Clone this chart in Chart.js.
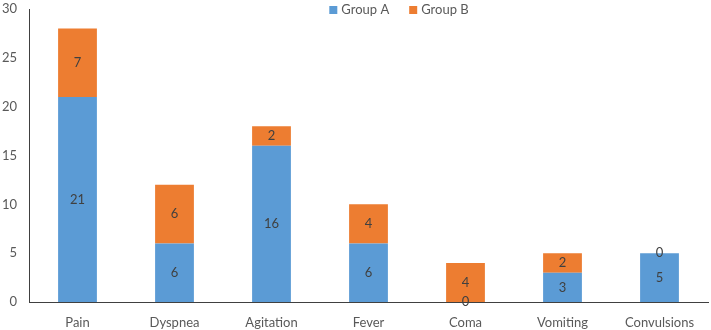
<!DOCTYPE html>
<html>
<head>
<meta charset="utf-8">
<script src="https://cdn.jsdelivr.net/npm/chart.js@4"></script>
<style>
  html, body { margin: 0; padding: 0; background: #fff; }
  #wrap { width: 711px; height: 330px; position: relative; }
</style>
</head>
<body>
<div id="wrap"><canvas id="chart"></canvas></div>
<script>
// Chart data
const categories = ['Pain', 'Dyspnea', 'Agitation', 'Fever', 'Coma', 'Vomiting', 'Convulsions'];
const groupA = [21, 6, 16, 6, 0, 3, 5];
const groupB = [7, 6, 2, 4, 4, 2, 0];
const yTicks = [0, 5, 10, 15, 20, 25, 30];

const BLUE = '#5B9BD5';
const ORANGE = '#ED7D31';
const TEXT = '#595959';
const FONT = 'Lato, "Open Sans", sans-serif';

// values written in the middle of every segment
const barLabels = {
    id: 'barLabels',
    afterDatasetsDraw(chart) {
        const ctx = chart.ctx;
        ctx.save();
        ctx.font = '13px ' + FONT;
        ctx.fillStyle = '#404040';
        ctx.textAlign = 'center';
        ctx.textBaseline = 'middle';
        chart.data.datasets.forEach((ds, i) => {
            chart.getDatasetMeta(i).data.forEach((bar, j) => {
                const p = bar.getProps(['x', 'y', 'base'], true);
                ctx.fillText(String(ds.data[j]), p.x, (p.y + p.base) / 2);
            });
        });
        ctx.restore();
    }
};

// legend drawn over the plot, top centre
const topLegend = {
    id: 'topLegend',
    afterDraw(chart) {
        const ctx = chart.ctx;
        ctx.save();
        ctx.font = '13px ' + FONT;
        ctx.textBaseline = 'middle';
        ctx.textAlign = 'left';
        const items = chart.data.datasets.map(d => ({ text: d.label, color: d.backgroundColor }));
        const box = 8, gap = 4, spacing = 20;
        let total = 0;
        items.forEach((it, k) => {
            it.w = box + gap + ctx.measureText(it.text).width;
            total += it.w + (k ? spacing : 0);
        });
        let x = 399 - total / 2;
        const y = 10;
        items.forEach(it => {
            ctx.fillStyle = it.color;
            ctx.fillRect(x, y - box / 2, box, box);
            ctx.fillStyle = TEXT;
            ctx.fillText(it.text, x + box + gap, y);
            x += it.w + spacing;
        });
        ctx.restore();
    }
};

new Chart(document.getElementById('chart'), {
    type: 'bar',
    data: {
        labels: categories,
        datasets: [
            { label: 'Group A', data: groupA, backgroundColor: BLUE, barPercentage: 0.4, categoryPercentage: 1 },
            { label: 'Group B', data: groupB, backgroundColor: ORANGE, barPercentage: 0.4, categoryPercentage: 1 }
        ]
    },
    options: {
        responsive: true,
        maintainAspectRatio: false,
        animation: false,
        layout: { padding: { top: 9, right: 3, left: 0, bottom: 0 } },
        plugins: {
            legend: { display: false },
            tooltip: { enabled: false }
        },
        scales: {
            x: {
                stacked: true,
                grid: { display: false, drawTicks: false },
                border: { display: true, color: '#404040', width: 1 },
                ticks: { color: TEXT, font: { family: FONT, size: 13 }, padding: 13 },
                afterFit(scale) {
                    scale.height = 28;
                    scale.paddingLeft = 0;
                    scale.paddingRight = 0;
                }
            },
            y: {
                stacked: true,
                min: 0,
                max: 30,
                afterBuildTicks(scale) { scale.ticks = yTicks.map(v => ({ value: v })); },
                grid: { display: false, drawTicks: false },
                border: { display: true, color: '#404040', width: 1 },
                ticks: { color: TEXT, font: { family: FONT, size: 13 }, padding: 12 },
                afterFit(scale) {
                    scale.width = 29;
                    scale.paddingTop = 0;
                    scale.paddingBottom = 0;
                }
            }
        }
    },
    plugins: [barLabels, topLegend]
});
</script>
</body>
</html>
